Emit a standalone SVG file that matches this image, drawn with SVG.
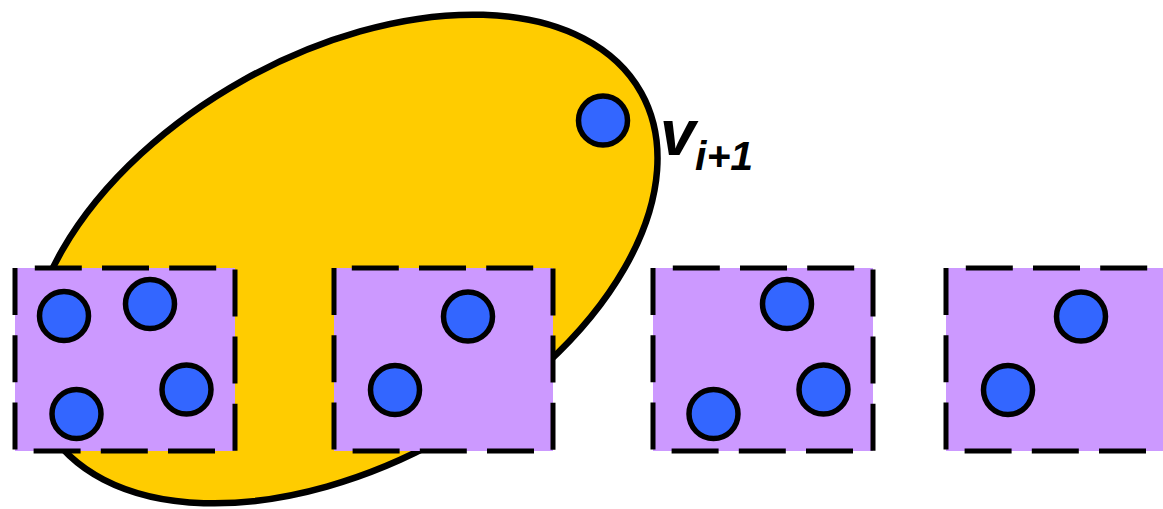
<svg xmlns="http://www.w3.org/2000/svg" width="1163" height="509" viewBox="0 0 1163 509">
<style>
.set{fill:#FFCC00;stroke:#000;stroke-width:6.5}
.box{fill:#CC99FF;stroke:#000;stroke-width:5;stroke-dasharray:47 20.2}
.v{fill:#3366FF;stroke:#000;stroke-width:5.5}
.lbl{font-family:"Liberation Sans",Arial,sans-serif;font-weight:bold;font-style:italic;fill:#000}
</style>
<rect width="1163" height="509" fill="#fff"/>
<g id="set">
<ellipse class="set" cx="343.5" cy="259" rx="341" ry="205" transform="rotate(-29.2 343.5 259)"/>
</g>
<g id="vi1">
<circle class="v" cx="603" cy="120.5" r="24.5"/>
<text class="lbl"><tspan x="660" y="155" font-size="64">v</tspan><tspan x="695" y="170" font-size="41">i+1</tspan></text>
</g>
<g id="box1">
<path class="box" d="M15,268 V451 H235 V268 Z"/>
<circle class="v" cx="64" cy="316" r="24.5"/>
<circle class="v" cx="150" cy="304" r="24.5"/>
<circle class="v" cx="186.5" cy="389.5" r="24.5"/>
<circle class="v" cx="76.5" cy="414" r="24.5"/>
</g>
<g id="box2">
<path class="box" d="M334,268 V451 H553 V268 Z"/>
<circle class="v" cx="468" cy="316.5" r="24.5"/>
<circle class="v" cx="395" cy="390" r="24.5"/>
</g>
<g id="box3">
<path class="box" d="M653,268 V451 H873 V268 Z"/>
<circle class="v" cx="787" cy="304" r="24.5"/>
<circle class="v" cx="823.5" cy="389.5" r="24.5"/>
<circle class="v" cx="713.5" cy="414" r="24.5"/>
</g>
<g id="box4">
<path class="box" d="M946,268 V451 H1166 V268 Z"/>
<circle class="v" cx="1081" cy="316.5" r="24.5"/>
<circle class="v" cx="1008" cy="390" r="24.5"/>
</g>
<g id="connectors"/>
</svg>
